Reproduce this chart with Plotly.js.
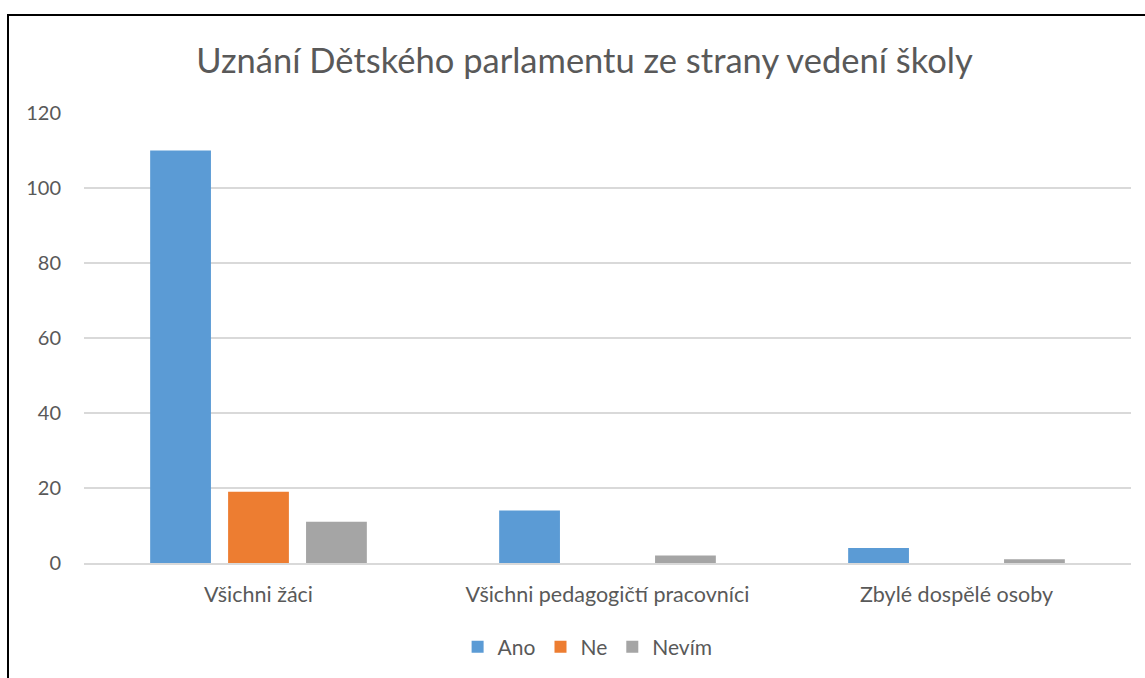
<!DOCTYPE html>
<html>
<head>
<meta charset="utf-8">
<script src="https://cdn.plot.ly/plotly-3.0.1.min.js"></script>
<style>
html,body{margin:0;padding:0;background:#fff;}
#chart{position:absolute;left:0;top:0;width:1145px;height:678px;}
#frame{position:absolute;left:7px;top:14px;width:1145px;height:678px;border-top:2px solid #000;border-left:2px solid #000;pointer-events:none;}
</style>
</head>
<body>
<div id="chart"></div>
<div id="frame"></div>
<script>
const categories = ["Všichni žáci", "Všichni pedagogičtí pracovníci", "Zbylé dospělé osoby"];
const seriesNames = ["Ano", "Ne", "Nevím"];
const ano = [110, 14, 4];
const ne = [19, 0, 0];
const nevim = [11, 2, 1];
const colors = ["#5b9bd5", "#ed7d31", "#a5a5a5"];
const yTicks = [0, 20, 40, 60, 80, 100, 120];

const font = "Lato, 'Open Sans', sans-serif";
const values = [ano, ne, nevim];
const data = values.map((v, i) => ({
  type: "bar",
  name: seriesNames[i],
  x: categories,
  y: v,
  marker: {color: colors[i]},
  hoverinfo: "x+y+name"
}));

const layout = {
  width: 1145, height: 678,
  margin: {l: 84, r: 14, t: 113, b: 114},
  paper_bgcolor: "#fff", plot_bgcolor: "#fff",
  font: {family: font, color: "#595959", size: 20},
  title: {text: "Uznání Dětského parlamentu ze strany vedení školy",
          font: {size: 34.5, color: "#595959", family: font},
          x: 0.5105, xanchor: "center", y: 0.91, yanchor: "middle"},
  barmode: "group",
  bargap: 0.33,
  bargroupgap: 0.22,
  xaxis: {showgrid: false, zeroline: false, showline: true, linecolor: "#d9d9d9", linewidth: 1.5,
          ticks: "", ticklabelstandoff: 12, tickfont: {size: 21.5, color: "#595959"}},
  yaxis: {range: [0, 120], tickvals: yTicks, showgrid: true, gridcolor: "#d9d9d9", gridwidth: 1.5,
          zeroline: false, showline: false, ticks: "", ticklabelstandoff: 22,
          tickfont: {size: 20, color: "#595959"}},
  showlegend: true,
  legend: {orientation: "h", x: 0.481, xanchor: "center", y: -0.184, yanchor: "middle",
           font: {size: 21, color: "#595959"}, traceorder: "normal", itemwidth: 30}
};

Plotly.newPlot("chart", data, layout, {displayModeBar: false, staticPlot: true});
</script>
</body>
</html>
